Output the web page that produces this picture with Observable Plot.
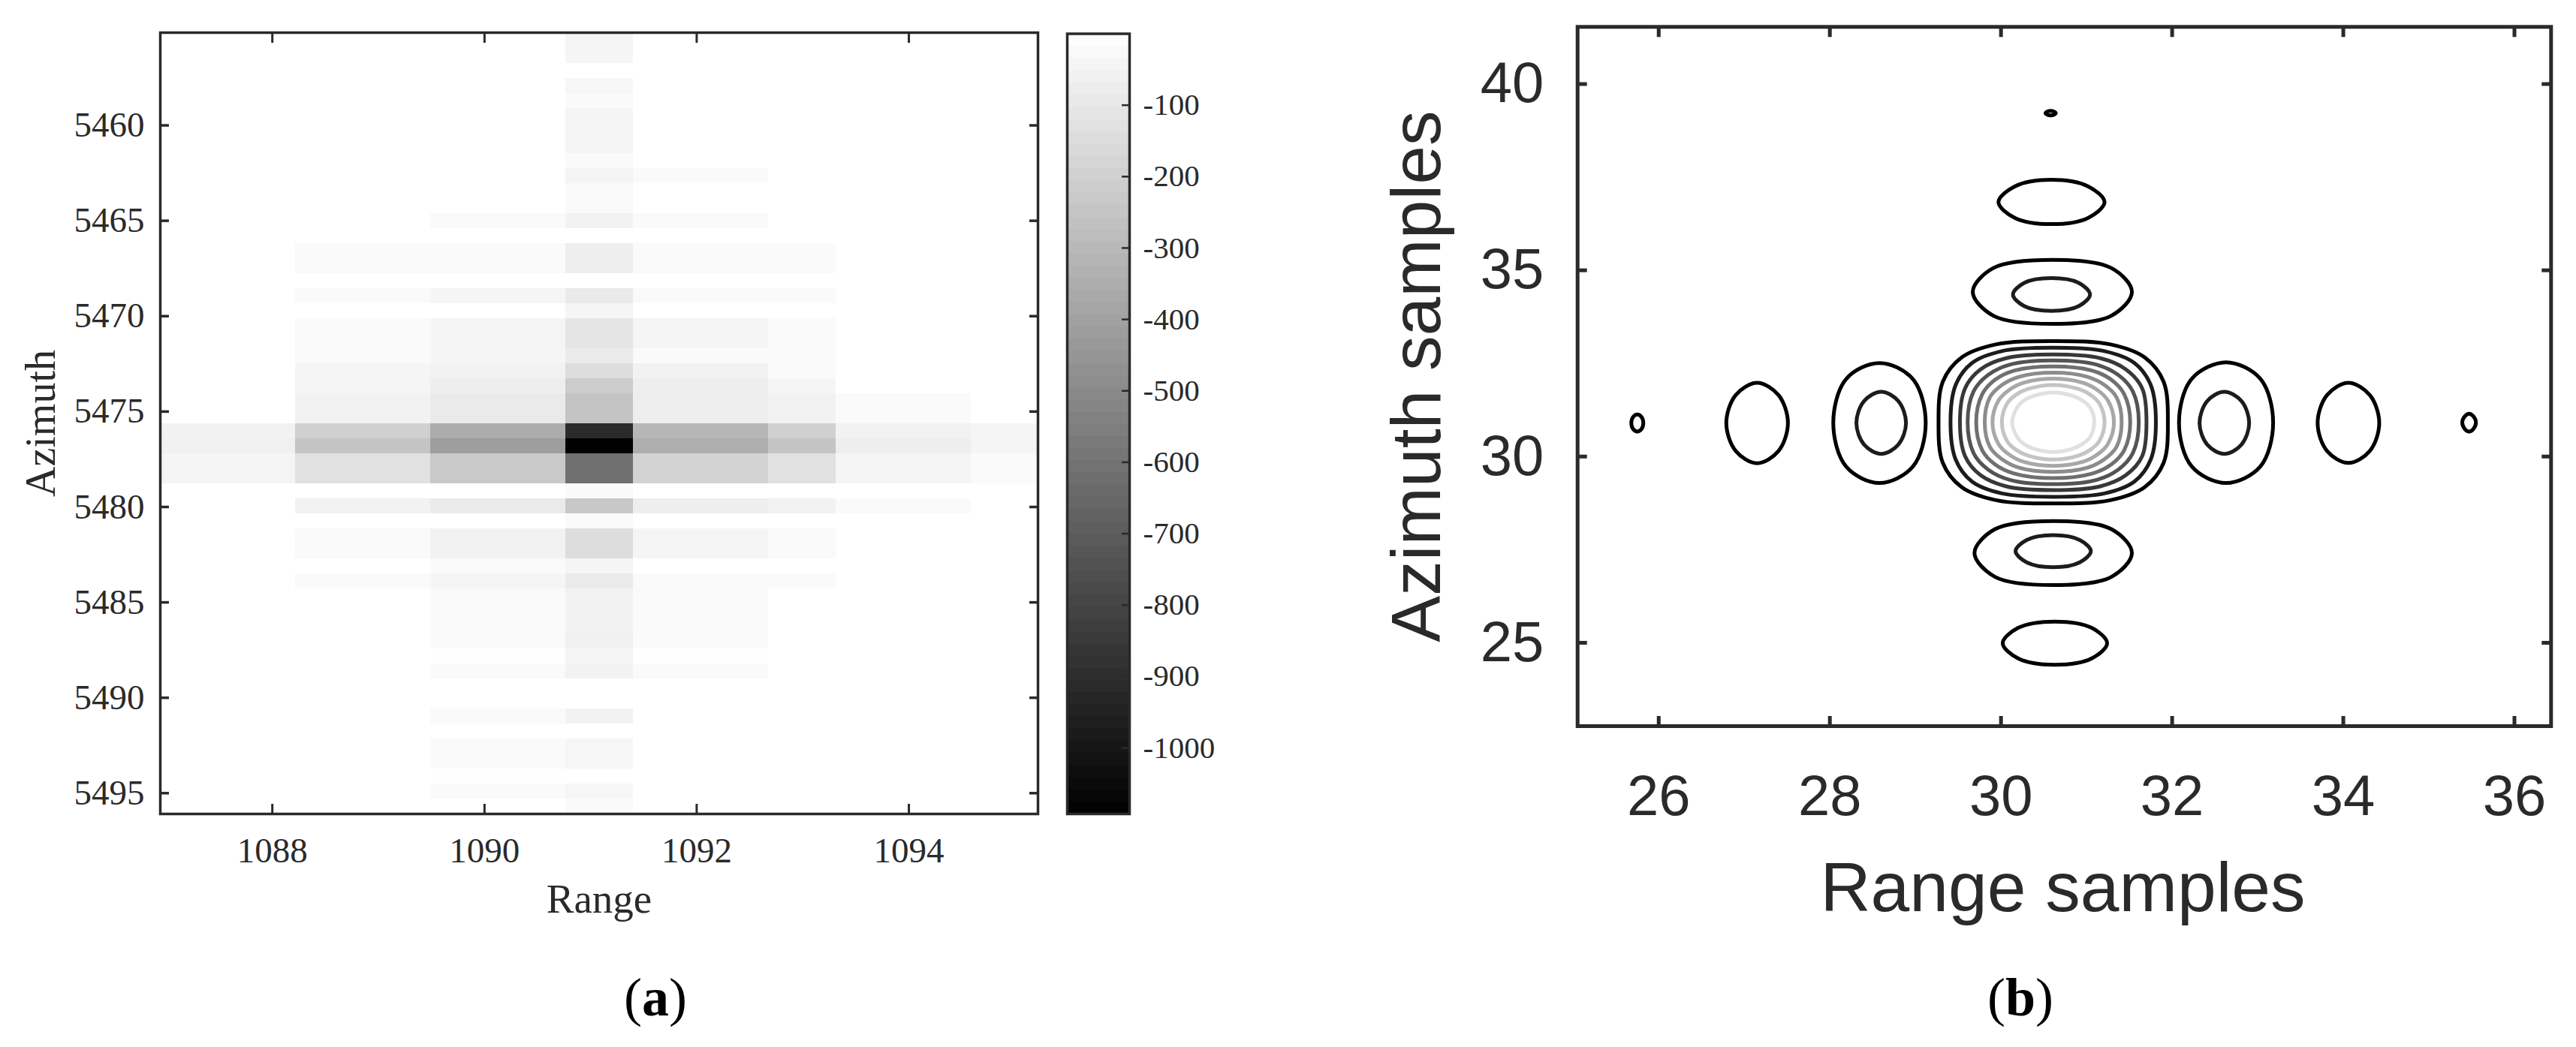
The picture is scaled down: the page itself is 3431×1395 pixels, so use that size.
<!DOCTYPE html>
<html><head><meta charset="utf-8">
<script src="https://cdn.jsdelivr.net/npm/d3@7"></script>
<script src="https://cdn.jsdelivr.net/npm/@observablehq/plot@0.6"></script>
<style>
html,body{margin:0;padding:0;background:#fff;}
#page{position:relative;width:3431px;height:1395px;overflow:hidden;background:#fff;}
#page>svg,#page>div.p{position:absolute;}
.cap{position:absolute;font-family:"Liberation Serif",serif;font-size:72px;line-height:1;color:#000;transform:translateX(-50%);white-space:nowrap;}
</style></head><body><div id="page"></div>
<script>
// (a) amplitude image: 52 azimuth rows x 13 range columns
const amplitudeRows = [
[0,0,0,0,0,0,-43,0,0,0,0,0,0],
[0,0,0,0,0,0,-43,0,0,0,0,0,0],
[0,0,0,0,0,0,0,0,0,0,0,0,0],
[0,0,0,0,0,0,-39,0,0,0,0,0,0],
[0,0,0,0,0,0,-21,0,0,0,0,0,0],
[0,0,0,0,0,0,-43,0,0,0,0,0,0],
[0,0,0,0,0,0,-43,0,0,0,0,0,0],
[0,0,0,0,0,0,-43,0,0,0,0,0,0],
[0,0,0,0,0,0,-21,0,0,0,0,0,0],
[0,0,0,0,0,0,-43,-21,-21,0,0,0,0],
[0,0,0,0,0,0,-21,0,0,0,0,0,0],
[0,0,0,0,0,0,-21,0,0,0,0,0,0],
[0,0,0,0,-21,-21,-56,-21,-21,0,0,0,0],
[0,0,0,0,0,0,0,0,0,0,0,0,0],
[0,0,-21,-21,-21,-21,-73,-21,-21,-21,0,0,0],
[0,0,-21,-21,-21,-21,-73,-21,-21,-21,0,0,0],
[0,0,0,0,0,0,0,0,0,0,0,0,0],
[0,0,-21,-21,-43,-43,-90,-21,-21,-21,0,0,0],
[0,0,0,0,0,0,-43,0,0,0,0,0,0],
[0,0,-21,-21,-43,-43,-111,-43,-43,-21,0,0,0],
[0,0,-21,-21,-43,-43,-111,-43,-43,-21,0,0,0],
[0,0,-21,-21,-43,-43,-90,-21,-21,-21,0,0,0],
[0,0,-43,-43,-56,-56,-146,-56,-56,-21,0,0,0],
[0,0,-43,-43,-73,-73,-218,-73,-73,-43,0,0,0],
[0,0,-56,-56,-90,-90,-253,-73,-73,-56,-21,-21,0],
[0,0,-56,-56,-90,-90,-253,-73,-73,-56,-21,-21,0],
[-56,-56,-201,-201,-355,-355,-908,-308,-308,-201,-56,-56,-43],
[-64,-64,-253,-253,-415,-415,-1092,-347,-347,-253,-73,-73,-43],
[-43,-43,-128,-128,-231,-231,-612,-193,-193,-128,-43,-43,-21],
[-43,-43,-128,-128,-231,-231,-612,-193,-193,-128,-43,-43,-21],
[0,0,0,0,0,0,-21,0,0,0,0,0,0],
[0,0,-56,-56,-90,-90,-236,-73,-73,-56,-21,-21,0],
[0,0,0,0,0,0,-21,0,0,0,0,0,0],
[0,0,-21,-21,-56,-56,-146,-43,-43,-21,0,0,0],
[0,0,-21,-21,-56,-56,-146,-43,-43,-21,0,0,0],
[0,0,0,0,-21,-21,-43,0,0,0,0,0,0],
[0,0,-21,-21,-43,-43,-90,-21,-21,-21,0,0,0],
[0,0,0,0,-21,-21,-56,-21,-21,0,0,0,0],
[0,0,0,0,-21,-21,-56,-21,-21,0,0,0,0],
[0,0,0,0,-21,-21,-56,-21,-21,0,0,0,0],
[0,0,0,0,-21,-21,-64,-21,-21,0,0,0,0],
[0,0,0,0,0,0,-43,0,0,0,0,0,0],
[0,0,0,0,-21,-21,-56,-21,-21,0,0,0,0],
[0,0,0,0,0,0,0,0,0,0,0,0,0],
[0,0,0,0,0,0,0,0,0,0,0,0,0],
[0,0,0,0,-21,-21,-56,0,0,0,0,0,0],
[0,0,0,0,0,0,0,0,0,0,0,0,0],
[0,0,0,0,-21,-21,-39,0,0,0,0,0,0],
[0,0,0,0,-21,-21,-39,0,0,0,0,0,0],
[0,0,0,0,0,0,0,0,0,0,0,0,0],
[0,0,0,0,-21,-21,-39,0,0,0,0,0,0],
[0,0,0,0,0,0,-21,0,0,0,0,0,0]
];
const rangeTicks = [1088,1090,1092,1094];
const azimuthTicks = [5460,5465,5470,5475,5480,5485,5490,5495];
const colorTicks = [-100,-200,-300,-400,-500,-600,-700,-800,-900,-1000];
const colorExtent = [-1092,0];

// (b) contour traces, one list per closed contour
const contourLevel = [0,1,2,3,4,5,6,7,8, 0,0,0,1, 0,1,0,0, 0,0,0,1, 0,1,0];
const contourX = [
[31.95,31.90,31.68,31.28,30.61,29.94,29.54,29.32,29.27,29.32,29.54,29.94,30.61,31.28,31.68,31.90],
[31.81,31.75,31.56,31.21,30.61,30.01,29.66,29.47,29.41,29.47,29.66,30.01,30.61,31.21,31.56,31.75],
[31.70,31.65,31.46,31.16,30.61,30.06,29.76,29.58,29.52,29.58,29.76,30.06,30.61,31.16,31.46,31.65],
[31.61,31.54,31.37,31.11,30.61,30.11,29.85,29.68,29.61,29.68,29.85,30.11,30.61,31.11,31.37,31.54],
[31.51,31.44,31.29,31.06,30.61,30.16,29.93,29.78,29.71,29.78,29.93,30.16,30.61,31.06,31.29,31.44],
[31.41,31.35,31.21,31.01,30.61,30.21,30.01,29.87,29.81,29.87,30.01,30.21,30.61,31.01,31.21,31.35],
[31.32,31.25,31.13,30.96,30.61,30.26,30.09,29.97,29.90,29.97,30.09,30.26,30.61,30.96,31.13,31.25],
[31.21,31.15,31.05,30.91,30.61,30.31,30.17,30.07,30.01,30.07,30.17,30.31,30.61,30.91,31.05,31.15],
[31.09,31.04,30.96,30.85,30.61,30.37,30.26,30.19,30.13,30.19,30.26,30.37,30.61,30.85,30.96,31.04],
[25.82,25.80,25.75,25.70,25.68,25.70,25.75,25.80],
[27.51,27.40,27.15,26.90,26.79,26.90,27.15,27.40],
[29.12,28.97,28.58,28.19,28.04,28.19,28.58,28.97],
[28.89,28.80,28.60,28.40,28.31,28.40,28.60,28.80],
[33.18,33.03,32.63,32.23,32.08,32.23,32.63,33.03],
[32.90,32.81,32.61,32.41,32.32,32.41,32.61,32.81],
[34.42,34.31,34.06,33.81,33.70,33.81,34.06,34.31],
[35.55,35.52,35.47,35.42,35.39,35.42,35.47,35.52],
[30.64,30.62,30.58,30.54,30.52,30.54,30.58,30.62],
[31.21,31.02,30.59,30.16,29.97,30.16,30.59,31.02],
[31.53,31.29,30.60,29.91,29.67,29.91,30.60,31.29],
[31.04,30.91,30.59,30.27,30.14,30.27,30.59,30.91],
[31.53,31.29,30.61,29.93,29.69,29.93,30.61,31.29],
[31.05,30.92,30.61,30.30,30.17,30.30,30.61,30.92],
[31.24,31.06,30.63,30.20,30.02,30.20,30.63,31.06]
];
const contourY = [
[30.92,32.01,32.66,33.01,33.10,33.01,32.66,32.01,30.92,29.83,29.18,28.83,28.74,28.83,29.18,29.83],
[30.92,31.92,32.51,32.83,32.92,32.83,32.51,31.92,30.92,29.92,29.33,29.01,28.92,29.01,29.33,29.92],
[30.92,31.83,32.34,32.64,32.74,32.64,32.34,31.83,30.92,30.01,29.50,29.20,29.10,29.20,29.50,30.01],
[30.92,31.75,32.19,32.47,32.58,32.47,32.19,31.75,30.92,30.09,29.65,29.37,29.26,29.37,29.65,30.09],
[30.92,31.67,32.06,32.31,32.42,32.31,32.06,31.67,30.92,30.17,29.79,29.54,29.42,29.54,29.79,30.17],
[30.92,31.59,31.92,32.14,32.25,32.14,31.92,31.59,30.92,30.26,29.93,29.70,29.59,29.70,29.93,30.26],
[30.92,31.50,31.78,31.98,32.09,31.98,31.78,31.50,30.92,30.34,30.06,29.86,29.75,29.86,30.06,30.34],
[30.92,31.42,31.65,31.81,31.92,31.81,31.65,31.42,30.92,30.42,30.19,30.03,29.92,30.03,30.19,30.42],
[30.92,31.32,31.49,31.62,31.72,31.62,31.49,31.32,30.92,30.52,30.35,30.22,30.12,30.22,30.35,30.52],
[30.90,31.06,31.13,31.06,30.90,30.74,30.67,30.74],
[30.90,31.65,31.98,31.65,30.90,30.15,29.82,30.15],
[30.90,32.08,32.51,32.08,30.90,29.73,29.29,29.73],
[30.90,31.49,31.74,31.49,30.90,30.32,30.07,30.32],
[30.91,32.09,32.53,32.09,30.91,29.73,29.29,29.73],
[30.90,31.49,31.74,31.49,30.90,30.32,30.07,30.32],
[30.90,31.65,31.98,31.65,30.90,30.15,29.83,30.15],
[30.91,31.08,31.15,31.08,30.91,30.74,30.67,30.74],
[39.22,39.26,39.28,39.26,39.22,39.18,39.16,39.18],
[36.83,37.25,37.43,37.25,36.83,36.41,36.24,36.41],
[34.42,35.06,35.28,35.06,34.42,33.78,33.56,33.78],
[34.35,34.66,34.79,34.66,34.35,34.04,33.91,34.04],
[27.41,28.05,28.27,28.05,27.41,26.77,26.55,26.77],
[27.46,27.76,27.89,27.76,27.46,27.16,27.03,27.16],
[24.99,25.40,25.57,25.40,24.99,24.58,24.41,24.58]
];
const sampleXTicks = [26,28,30,32,34,36];
const sampleYTicks = [25,30,35,40];

const INK = "#2a2a2a";
const SERIF = '"Liberation Serif",serif';
const SANS = '"Liberation Sans",sans-serif';
const page = document.getElementById("page");
function place(svg,left,top){svg.style.left=left+"px";svg.style.top=top+"px";page.appendChild(svg);}
function cap(html,x,top){const d=document.createElement("div");d.className="cap";d.innerHTML=html;d.style.left=x+"px";d.style.top=top+"px";page.appendChild(d);}
const gray = {type:"linear",domain:colorExtent,range:["#000000","#ffffff"],interpolate:"rgb",clamp:true};

// panel (a) image
const pA = Plot.plot({
  width:1400,height:1290,marginLeft:213,marginRight:18,marginTop:43,marginBottom:206,
  style:{fontFamily:SERIF,background:"transparent",overflow:"visible"},
  x:{domain:[1086.944,1095.217],axis:null},
  y:{domain:[5455.14,5496.09],reverse:true,axis:null},
  color:gray,
  marks:[
    Plot.raster(amplitudeRows.flat(),{width:13,height:52,x1:1086.944,x2:1095.217,y1:5455.14,y2:5496.09,imageRendering:"pixelated"}),
    Plot.axisX({anchor:"bottom",ticks:rangeTicks,tickSize:-13,tickPadding:44,tickFormat:"d",fontSize:47,color:INK,strokeWidth:3,label:null}),
    Plot.axisX({anchor:"top",ticks:rangeTicks,tickSize:-13,tickFormat:()=>"",color:INK,strokeWidth:3,label:null}),
    Plot.axisY({anchor:"left",ticks:azimuthTicks,tickSize:-12,tickPadding:33,tickFormat:"d",fontSize:47,color:INK,strokeWidth:3.5,label:null}),
    Plot.axisY({anchor:"right",ticks:azimuthTicks,tickSize:-12,tickFormat:()=>"",color:INK,strokeWidth:3.5,label:null}),
    Plot.frame({stroke:INK,strokeWidth:3.5}),
    Plot.text(["Range"],{text:d=>d,frameAnchor:"bottom",lineAnchor:"bottom",textAnchor:"middle",dy:131,fontSize:55,fill:INK}),
    Plot.text(["Azimuth"],{text:d=>d,frameAnchor:"left",lineAnchor:"bottom",textAnchor:"middle",rotate:-90,dx:-141,fontSize:56,fill:INK})
  ]
});
place(pA,0,0);

// colour bar
const pC = Plot.plot({
  width:340,height:1290,marginLeft:21,marginRight:236,marginTop:44.5,marginBottom:206,
  style:{fontFamily:SERIF,background:"transparent",overflow:"visible"},
  x:{domain:[0,1],axis:null},
  y:{domain:[-1092.5,0],axis:null},
  color:gray,
  marks:[
    Plot.raster(d3.range(64).map(i=>-(i+0.5)*1092/64),{width:1,height:64,x1:0,x2:1,y1:0,y2:-1092.5,imageRendering:"pixelated"}),
    Plot.axisY({anchor:"right",ticks:colorTicks,tickSize:-11,tickPadding:29,tickFormat:d=>String(d),fontSize:41,color:INK,strokeWidth:2.5,label:null}),
    Plot.frame({stroke:INK,strokeWidth:3.5})
  ]
});
place(pC,1400,0);

// panel (b) contours
const contourRows = contourX.flatMap((xs,id)=>xs.map((x,i)=>({id,x,y:contourY[id][i],level:contourLevel[id]})));
const pB = Plot.plot({
  width:1631,height:1290,marginLeft:300.7,marginRight:33.7,marginTop:35.3,marginBottom:323,
  style:{fontFamily:SANS,background:"transparent",overflow:"visible"},
  x:{domain:[25.052,36.428],axis:null},
  y:{domain:[22.762,41.535],axis:null},
  color:{type:"linear",domain:[0,8],range:["#000000","#e0e0e0"],interpolate:"rgb"},
  marks:[
    Plot.line(contourRows,{x:"x",y:"y",z:"id",stroke:"level",strokeWidth:5,curve:"catmull-rom-closed"}),
    Plot.axisX({anchor:"bottom",ticks:sampleXTicks,tickSize:-13,tickPadding:78,tickFormat:"d",fontSize:76,color:INK,strokeWidth:5,label:null}),
    Plot.axisX({anchor:"top",ticks:sampleXTicks,tickSize:-13,tickFormat:()=>"",color:INK,strokeWidth:5,label:null}),
    Plot.axisY({anchor:"left",ticks:sampleYTicks,tickSize:-13,tickPadding:58,tickFormat:"d",fontSize:76,color:INK,strokeWidth:5,label:null}),
    Plot.axisY({anchor:"right",ticks:sampleYTicks,tickSize:-13,tickFormat:()=>"",color:INK,strokeWidth:5,label:null}),
    Plot.frame({stroke:INK,strokeWidth:5}),
    Plot.text(["Range samples"],{text:d=>d,frameAnchor:"bottom",lineAnchor:"bottom",textAnchor:"middle",dy:246,dx:-2,fontSize:93,fill:INK}),
    Plot.text(["Azimuth samples"],{text:d=>d,frameAnchor:"left",lineAnchor:"bottom",textAnchor:"middle",rotate:-90,dx:-183,fontSize:93,fill:INK})
  ]
});
place(pB,1800,0);

cap("(<b>a</b>)",873,1293);
cap("(<b>b</b>)",2691,1293);
</script></body></html>
